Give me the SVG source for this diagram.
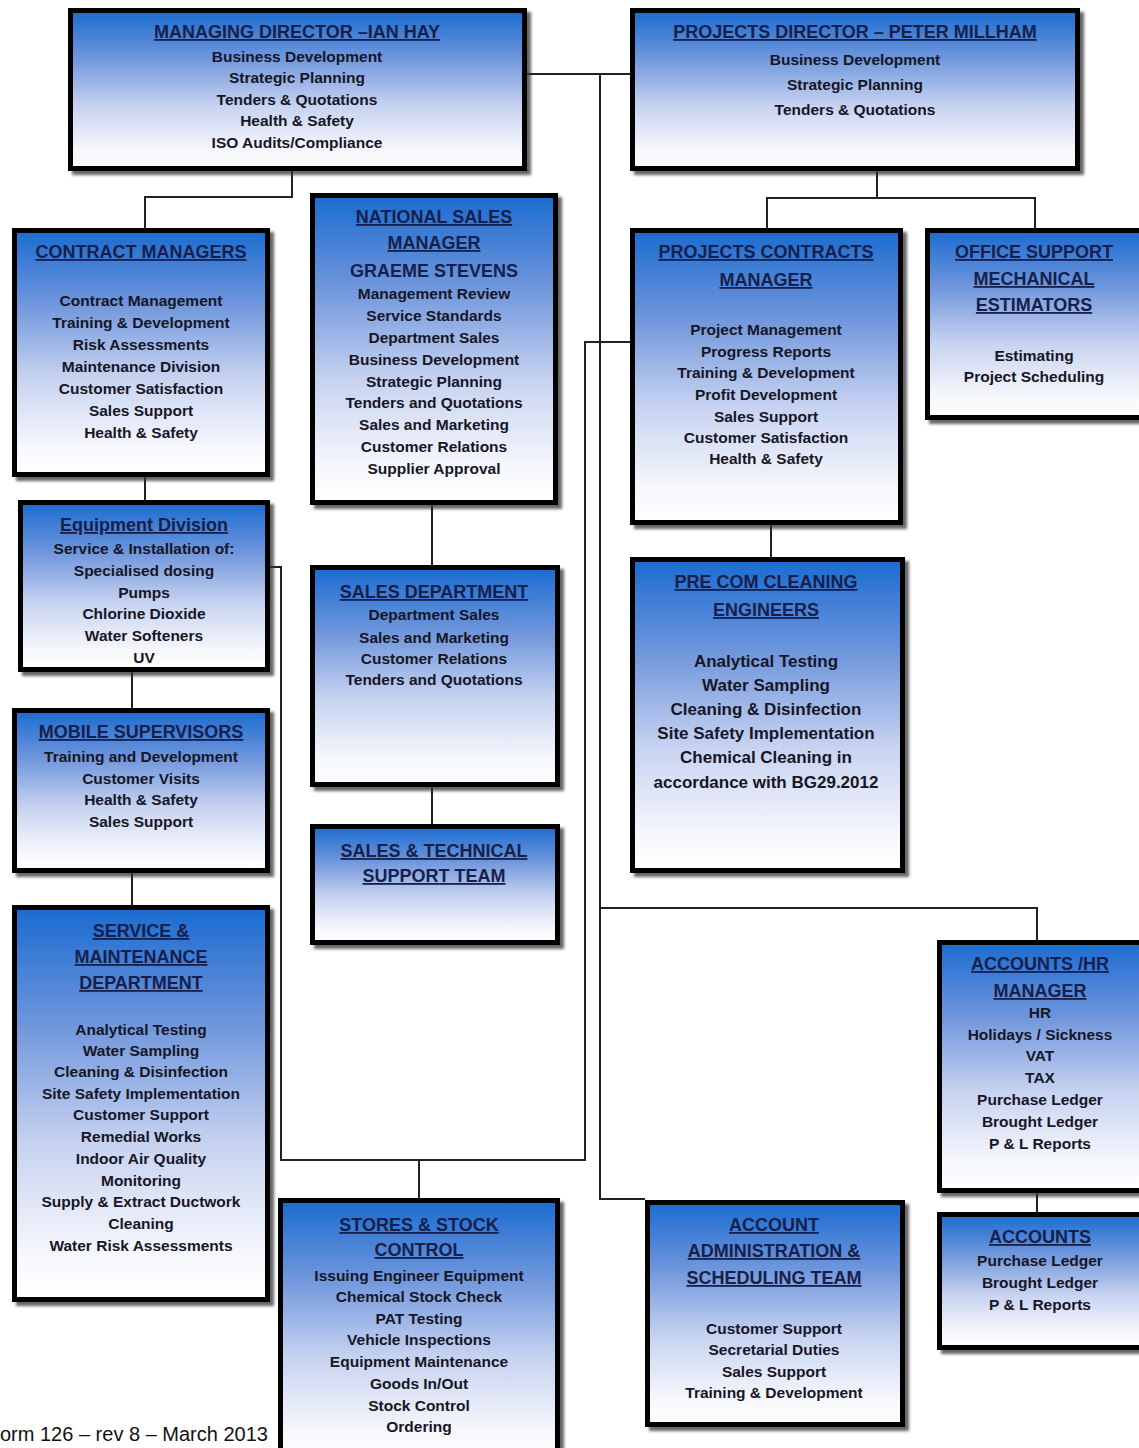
<svg xmlns="http://www.w3.org/2000/svg" width="1139" height="1448" viewBox="0 0 1139 1448">
<defs>
<linearGradient id="g" x1="0" y1="0" x2="0" y2="1">
<stop offset="0" stop-color="#1a6bd0"/>
<stop offset="0.3" stop-color="#6f96dc"/>
<stop offset="0.6" stop-color="#c6d2f0"/>
<stop offset="0.88" stop-color="#f6f7fc"/>
<stop offset="1" stop-color="#ffffff"/>
</linearGradient>
<filter id="sh" x="-5%" y="-5%" width="115%" height="115%">
<feDropShadow dx="4" dy="4" stdDeviation="1.5" flood-color="#333" flood-opacity="0.75"/>
</filter>
</defs>
<style>
.box{fill:url(#g);stroke:#050505;stroke-width:5;filter:url(#sh)}
.c{fill:none;stroke:#222;stroke-width:2}
text{font-family:"Liberation Sans",Arial,sans-serif;font-weight:bold;text-anchor:middle}
.t{font-size:18px;fill:#16204c;text-decoration:underline}
.n{font-size:18px;fill:#16204c}
.b{font-size:15.5px;fill:#161626}
.bl{font-size:17px;fill:#161626}
.f{font-family:"Liberation Sans",Arial,sans-serif;font-weight:normal;font-size:20px;fill:#111;text-anchor:start}
</style>
<rect width="1139" height="1448" fill="#fff"/>
<g id="connectors">
<path class="c" d="M292 171V197H145V228"/>
<path class="c" d="M527 74H630"/>
<path class="c" d="M600 74V1199H645"/>
<path class="c" d="M600 908H1037V940"/>
<path class="c" d="M877 171V198M767 228V198H1035V228"/>
<path class="c" d="M771 525V557"/>
<path class="c" d="M145 477V500"/>
<path class="c" d="M132 672V708"/>
<path class="c" d="M132 873V905"/>
<path class="c" d="M432 505V565"/>
<path class="c" d="M432 787V824"/>
<path class="c" d="M270 567H281V1160H585V342H630"/>
<path class="c" d="M419 1160V1198"/>
<path class="c" d="M1037 1193V1212"/>
</g>
<g id="managing-director">
<rect class="box" x="70.5" y="10.5" width="454" height="158"/>
<text class="t" x="297" y="38">MANAGING DIRECTOR –IAN HAY</text>
<text class="b" x="297" y="62">Business Development</text>
<text class="b" x="297" y="83">Strategic Planning</text>
<text class="b" x="297" y="105">Tenders &amp; Quotations</text>
<text class="b" x="297" y="126">Health &amp; Safety</text>
<text class="b" x="297" y="148">ISO Audits/Compliance</text>
</g>
<g id="projects-director">
<rect class="box" x="632.5" y="10.5" width="445" height="158"/>
<text class="t" x="855" y="38">PROJECTS DIRECTOR – PETER MILLHAM</text>
<text class="b" x="855" y="65">Business Development</text>
<text class="b" x="855" y="90">Strategic Planning</text>
<text class="b" x="855" y="115">Tenders &amp; Quotations</text>
</g>
<g id="contract-managers">
<rect class="box" x="14.5" y="230.5" width="253" height="244"/>
<text class="t" x="141" y="258">CONTRACT MANAGERS</text>
<text class="b" x="141" y="306">Contract Management</text>
<text class="b" x="141" y="328">Training &amp; Development</text>
<text class="b" x="141" y="350">Risk Assessments</text>
<text class="b" x="141" y="372">Maintenance Division</text>
<text class="b" x="141" y="394">Customer Satisfaction</text>
<text class="b" x="141" y="416">Sales Support</text>
<text class="b" x="141" y="438">Health &amp; Safety</text>
</g>
<g id="national-sales-manager">
<rect class="box" x="312.5" y="195.5" width="243" height="307"/>
<text class="t" x="434" y="223">NATIONAL SALES</text>
<text class="t" x="434" y="249">MANAGER</text>
<text class="n" x="434" y="277">GRAEME STEVENS</text>
<text class="b" x="434" y="299">Management Review</text>
<text class="b" x="434" y="321">Service Standards</text>
<text class="b" x="434" y="343">Department Sales</text>
<text class="b" x="434" y="365">Business Development</text>
<text class="b" x="434" y="387">Strategic Planning</text>
<text class="b" x="434" y="408">Tenders and Quotations</text>
<text class="b" x="434" y="430">Sales and Marketing</text>
<text class="b" x="434" y="452">Customer Relations</text>
<text class="b" x="434" y="474">Supplier Approval</text>
</g>
<g id="projects-contracts-manager">
<rect class="box" x="632.5" y="230.5" width="268" height="292"/>
<text class="t" x="766" y="258">PROJECTS CONTRACTS</text>
<text class="t" x="766" y="286">MANAGER</text>
<text class="b" x="766" y="335">Project Management</text>
<text class="b" x="766" y="357">Progress Reports</text>
<text class="b" x="766" y="378">Training &amp; Development</text>
<text class="b" x="766" y="400">Profit Development</text>
<text class="b" x="766" y="422">Sales Support</text>
<text class="b" x="766" y="443">Customer Satisfaction</text>
<text class="b" x="766" y="464">Health &amp; Safety</text>
</g>
<g id="office-support">
<rect class="box" x="927.5" y="230.5" width="220" height="187"/>
<text class="t" x="1034" y="258">OFFICE SUPPORT</text>
<text class="t" x="1034" y="285">MECHANICAL</text>
<text class="t" x="1034" y="311">ESTIMATORS</text>
<text class="b" x="1034" y="361">Estimating</text>
<text class="b" x="1034" y="382">Project Scheduling</text>
</g>
<g id="equipment-division">
<rect class="box" x="20.5" y="502.5" width="247" height="167"/>
<text class="t" x="144" y="531">Equipment Division</text>
<text class="b" x="144" y="554">Service &amp; Installation of:</text>
<text class="b" x="144" y="576">Specialised dosing</text>
<text class="b" x="144" y="598">Pumps</text>
<text class="b" x="144" y="619">Chlorine Dioxide</text>
<text class="b" x="144" y="641">Water Softeners</text>
<text class="b" x="144" y="663">UV</text>
</g>
<g id="mobile-supervisors">
<rect class="box" x="14.5" y="710.5" width="253" height="160"/>
<text class="t" x="141" y="738">MOBILE SUPERVISORS</text>
<text class="b" x="141" y="762">Training and Development</text>
<text class="b" x="141" y="784">Customer Visits</text>
<text class="b" x="141" y="805">Health &amp; Safety</text>
<text class="b" x="141" y="827">Sales Support</text>
</g>
<g id="sales-department">
<rect class="box" x="312.5" y="567.5" width="245" height="217"/>
<text class="t" x="434" y="598">SALES DEPARTMENT</text>
<text class="b" x="434" y="620">Department Sales</text>
<text class="b" x="434" y="643">Sales and Marketing</text>
<text class="b" x="434" y="664">Customer Relations</text>
<text class="b" x="434" y="685">Tenders and Quotations</text>
</g>
<g id="sales-technical-support">
<rect class="box" x="312.5" y="826.5" width="245" height="116"/>
<text class="t" x="434" y="857">SALES &amp; TECHNICAL</text>
<text class="t" x="434" y="882">SUPPORT TEAM</text>
</g>
<g id="pre-com-cleaning">
<rect class="box" x="632.5" y="559.5" width="270" height="311"/>
<text class="t" x="766" y="588">PRE COM CLEANING</text>
<text class="t" x="766" y="616">ENGINEERS</text>
<text class="bl" x="766" y="667">Analytical Testing</text>
<text class="bl" x="766" y="691">Water Sampling</text>
<text class="bl" x="766" y="715">Cleaning &amp; Disinfection</text>
<text class="bl" x="766" y="739">Site Safety Implementation</text>
<text class="bl" x="766" y="763">Chemical Cleaning in</text>
<text class="bl" x="766" y="788">accordance with BG29.2012</text>
</g>
<g id="service-maintenance">
<rect class="box" x="14.5" y="907.5" width="253" height="392"/>
<text class="t" x="141" y="937">SERVICE &amp;</text>
<text class="t" x="141" y="963">MAINTENANCE</text>
<text class="t" x="141" y="989">DEPARTMENT</text>
<text class="b" x="141" y="1035">Analytical Testing</text>
<text class="b" x="141" y="1056">Water Sampling</text>
<text class="b" x="141" y="1077">Cleaning &amp; Disinfection</text>
<text class="b" x="141" y="1099">Site Safety Implementation</text>
<text class="b" x="141" y="1120">Customer Support</text>
<text class="b" x="141" y="1142">Remedial Works</text>
<text class="b" x="141" y="1164">Indoor Air Quality</text>
<text class="b" x="141" y="1186">Monitoring</text>
<text class="b" x="141" y="1207">Supply &amp; Extract Ductwork</text>
<text class="b" x="141" y="1229">Cleaning</text>
<text class="b" x="141" y="1251">Water Risk Assessments</text>
</g>
<g id="accounts-hr-manager">
<rect class="box" x="939.5" y="942.5" width="210" height="248"/>
<text class="t" x="1040" y="970">ACCOUNTS /HR</text>
<text class="t" x="1040" y="997">MANAGER</text>
<text class="b" x="1040" y="1018">HR</text>
<text class="b" x="1040" y="1040">Holidays / Sickness</text>
<text class="b" x="1040" y="1061">VAT</text>
<text class="b" x="1040" y="1083">TAX</text>
<text class="b" x="1040" y="1105">Purchase Ledger</text>
<text class="b" x="1040" y="1127">Brought Ledger</text>
<text class="b" x="1040" y="1149">P &amp; L Reports</text>
</g>
<g id="accounts">
<rect class="box" x="939.5" y="1214.5" width="210" height="133"/>
<text class="t" x="1040" y="1243">ACCOUNTS</text>
<text class="b" x="1040" y="1266">Purchase Ledger</text>
<text class="b" x="1040" y="1288">Brought Ledger</text>
<text class="b" x="1040" y="1310">P &amp; L Reports</text>
</g>
<g id="stores-stock-control">
<rect class="box" x="280.5" y="1200.5" width="277" height="260"/>
<text class="t" x="419" y="1231">STORES &amp; STOCK</text>
<text class="t" x="419" y="1256">CONTROL</text>
<text class="b" x="419" y="1281">Issuing Engineer Equipment</text>
<text class="b" x="419" y="1302">Chemical Stock Check</text>
<text class="b" x="419" y="1324">PAT Testing</text>
<text class="b" x="419" y="1345">Vehicle Inspections</text>
<text class="b" x="419" y="1367">Equipment Maintenance</text>
<text class="b" x="419" y="1389">Goods In/Out</text>
<text class="b" x="419" y="1411">Stock Control</text>
<text class="b" x="419" y="1432">Ordering</text>
</g>
<g id="account-administration">
<rect class="box" x="647.5" y="1202.5" width="255" height="222"/>
<text class="t" x="774" y="1231">ACCOUNT</text>
<text class="t" x="774" y="1257">ADMINISTRATION &amp;</text>
<text class="t" x="774" y="1284">SCHEDULING TEAM</text>
<text class="b" x="774" y="1334">Customer Support</text>
<text class="b" x="774" y="1355">Secretarial Duties</text>
<text class="b" x="774" y="1377">Sales Support</text>
<text class="b" x="774" y="1398">Training &amp; Development</text>
</g>
<text class="f" x="0" y="1441">orm 126 – rev 8 – March 2013</text>
</svg>
